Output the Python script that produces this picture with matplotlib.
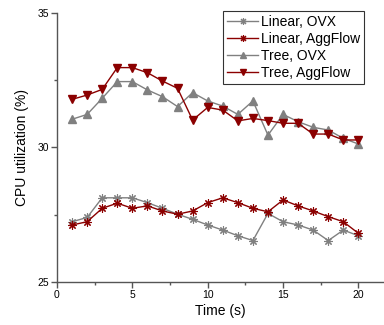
import matplotlib
matplotlib.use("Agg")
import matplotlib.pyplot as plt
from matplotlib.ticker import MultipleLocator

plt.rcParams['font.family'] = ['Liberation Sans', 'DejaVu Sans']

time = list(range(1, 21))
linear_ovx = [27.24, 27.40, 28.13, 28.13, 28.13, 27.95, 27.74, 27.52, 27.33, 27.12,
              26.93, 26.72, 26.54, 27.55, 27.24, 27.12, 26.93, 26.54, 26.93, 26.72]
linear_agg = [27.12, 27.24, 27.74, 27.93, 27.74, 27.83, 27.64, 27.52, 27.64, 27.95,
              28.13, 27.95, 27.74, 27.61, 28.05, 27.83, 27.64, 27.43, 27.24, 26.81]
tree_ovx = [31.05, 31.23, 31.83, 32.45, 32.45, 32.14, 31.89, 31.52, 32.04, 31.73,
            31.54, 31.23, 31.73, 30.46, 31.23, 30.96, 30.75, 30.65, 30.34, 30.13]
tree_agg = [31.79, 31.95, 32.16, 32.97, 32.97, 32.78, 32.47, 32.20, 31.02, 31.49,
            31.39, 30.99, 31.08, 31.00, 30.90, 30.90, 30.50, 30.50, 30.28, 30.28]

GRAY = '#808080'
RED = '#8B0000'

fig = plt.figure(figsize=(3.84, 3.25), dpi=100)
ax = fig.add_axes([57/384, 43/325, 1 - 57/384, (282-13)/325])

ax.plot(time, linear_ovx, color=GRAY, lw=1.0, marker=(8, 2, 0), ms=6, mew=0.8,
        label='Linear, OVX')
ax.plot(time, linear_agg, color=RED, lw=1.0, marker=(8, 2, 0), ms=6, mew=0.8,
        label='Linear, AggFlow')
ax.plot(time, tree_ovx, color=GRAY, lw=1.0, marker='^', ms=6, mec=GRAY, mfc=GRAY,
        label='Tree, OVX')
ax.plot(time, tree_agg, color=RED, lw=1.0, marker='v', ms=6, mec=RED, mfc=RED,
        label='Tree, AggFlow')

ax.set_xlim(0, 21.7)
ax.set_ylim(25, 35)
ax.xaxis.set_major_locator(MultipleLocator(5))
ax.xaxis.set_minor_locator(MultipleLocator(2.5))
ax.yaxis.set_major_locator(MultipleLocator(5))
ax.yaxis.set_minor_locator(MultipleLocator(2.5))

for s in ['top', 'right']:
    ax.spines[s].set_visible(False)
for s in ['left', 'bottom']:
    ax.spines[s].set_color('#555555')
    ax.spines[s].set_linewidth(1.0)

ax.tick_params(which='major', direction='out', length=4, width=1, color='#555555',
               labelsize=7.5, pad=2)
ax.tick_params(which='minor', direction='out', length=2, width=1, color='#555555')

ax.set_xlabel('Time (s)', fontsize=10, labelpad=3)
ax.set_ylabel('CPU utilization (%)', fontsize=10, labelpad=6)

leg = ax.legend(loc='upper right', bbox_to_anchor=(364/384, 1 - 11/325),
                bbox_transform=fig.transFigure, fontsize=10, frameon=True,
                fancybox=False, edgecolor='black', handlelength=2.2,
                handletextpad=0.2, borderpad=0.3, labelspacing=0.2,
                borderaxespad=0)
leg.get_frame().set_linewidth(0.8)
for h in leg.legend_handles:
    h.set_markersize(5)

fig.savefig('out.png', dpi=100)
